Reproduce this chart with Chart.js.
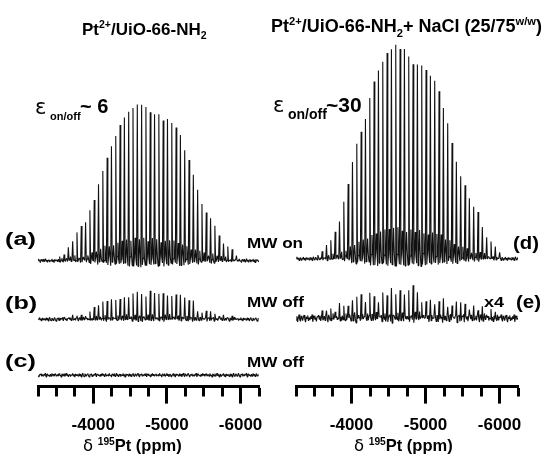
<!DOCTYPE html>
<html>
<head>
<meta charset="utf-8">
<script src="https://cdn.jsdelivr.net/npm/chart.js@4.4.0/dist/chart.umd.min.js"></script>
<style>
  body { margin: 0; background: #fff; }
  #wrap { position: relative; width: 542px; height: 454px; overflow: hidden; }
  canvas { position: absolute; top: 0; }
  .t { position: absolute; font-family: "Liberation Sans", Arial, sans-serif; font-weight: bold;
       line-height: 1; white-space: nowrap; color: #000; transform-origin: 0 0; }
  .t sup, .t sub { font-size: 0.62em; line-height: 0; }
  .g { font-family: "DejaVu Sans", sans-serif; font-weight: normal; }
</style>
</head>
<body>
<div id="wrap">
  <canvas id="left" width="271" height="454" style="left:0"></canvas>
  <canvas id="right" width="271" height="454" style="left:271px"></canvas>

  <div class="t" style="left:82px;top:20.5px;font-size:17px">Pt<sup>2+</sup>/UiO-66-NH<sub>2</sub></div>
  <div class="t" style="left:271px;top:16.5px;font-size:18px">Pt<sup>2+</sup>/UiO-66-NH<sub>2</sub>+ NaCl (25/75<sup>w/w</sup>)</div>

  <div class="t g" style="left:35px;top:97px;font-size:21px">ε</div>
  <div class="t" style="left:50px;top:111px;font-size:11px">on/off</div>
  <div class="t" style="left:80px;top:96px;font-size:20px">~ 6</div>

  <div class="t g" style="left:273px;top:95px;font-size:21px">ε</div>
  <div class="t" style="left:288px;top:107px;font-size:14px">on/off</div>
  <div class="t" style="left:326px;top:94px;font-size:21px">~30</div>

  <div class="t" style="left:5px;top:230px;font-size:18px;transform:scaleX(1.4)">(a)</div>
  <div class="t" style="left:247px;top:235px;font-size:15px;transform:scaleX(1.14)">MW on</div>
  <div class="t" style="left:513px;top:234px;font-size:18px;transform:scaleX(1.13)">(d)</div>

  <div class="t" style="left:5px;top:294px;font-size:18px;transform:scaleX(1.4)">(b)</div>
  <div class="t" style="left:247px;top:294px;font-size:15px;transform:scaleX(1.14)">MW off</div>
  <div class="t" style="left:484px;top:294px;font-size:15px;transform:scaleX(1.2)">x4</div>
  <div class="t" style="left:516px;top:293px;font-size:18px;transform:scaleX(1.14)">(e)</div>

  <div class="t" style="left:5px;top:352px;font-size:18px;transform:scaleX(1.4)">(c)</div>
  <div class="t" style="left:247px;top:354px;font-size:15px;transform:scaleX(1.14)">MW off</div>

  <div class="t" style="left:83px;top:437px;font-size:16.5px"><span class="g">δ</span> <sup>195</sup>Pt (ppm)</div>
  <div class="t" style="left:354px;top:437px;font-size:16.5px"><span class="g">δ</span> <sup>195</sup>Pt (ppm)</div>
</div>

<script>
// spikelet grid (ppm) shared by all spectra
var SPIKE_START = -3545;
var SPIKE_STEP = 58.5;
var AXIS_MIN = -6250, AXIS_MAX = -3250, TICK_STEP = 250;

// spikelet intensities, a.u. ((d) max = 100)
var specA = [1.4, 2.3, 7.2, 9.5, 12.7, 15.5, 18.5, 23.6, 29.1, 35.7, 42.7, 48.4, 53.7, 59.2,
  63.8, 67.5, 70.0, 71.4, 73.2, 72.8, 71.4, 70.6, 69.8, 68.2, 66.3, 65.9, 65.4, 63.5, 58.8,
  51.8, 46.6, 40.8, 33.0, 26.8, 22.9, 19.4, 15.8, 12.7, 8.5, 6.1, 4.6, 2.8];
var specB = [0.5, 0.7, 0.9, 1.4, 1.9, 1.4, 2.3, 2.8, 5.4, 7.4, 8.2, 8.2, 8.9, 9.4, 9.7, 10.5,
  11.3, 12.1, 12.4, 11.6, 11.3, 12.5, 12.1, 11.3, 11.3, 11.9, 11.6, 12.1, 11.3, 10.5, 8.9, 8.2,
  4.2, 3.8, 4.2, 3.5, 2.3, 1.9, 1.4, 0.9, 0.9, 0.7];
var specC = [];
var specD = [1.4, 2.8, 5.5, 9.4, 13.3, 18.0, 26.6, 35.5, 45.4, 53.5, 60.2, 66.5, 75.9, 83.2,
  88.3, 93.2, 96.2, 98.8, 100, 99.5, 97.9, 94.8, 92.3, 91.3, 90.6, 88.4, 86.4, 84.0, 78.9, 71.8,
  63.8, 54.0, 45.4, 39.4, 33.7, 28.2, 23.8, 21.1, 15.6, 10.7, 8.6, 5.5, 3.3];
var specE = [0.47, 0.59, 1.02, 0.82, 1.17, 1.41, 1.29, 1.88, 2.08, 2.35, 2.58, 2.08, 3.13, 2.66,
  2.35, 3.05, 2.46, 3.44, 3.13, 2.85, 2.66, 2.97, 3.44, 3.44, 2.19, 2.27, 2.08, 1.80, 1.96, 2.08,
  1.56, 1.88, 2.08, 1.80, 1.56, 1.29, 1.17, 1.06, 1.09, 0.82, 0.70, 0.59, 0.47];
var E_GAIN = 4;

// baseline noise, hand-typed
var NOISE = [0.3, -0.5, 0.8, -0.2, 0.1, -0.9, 0.6, 0.2, -0.4, 0.7, -0.6, 0.0, 0.9, -0.3, 0.4, -0.8,
  0.2, 0.5, -0.7, 0.1, -0.1, 0.8, -0.5, 0.3, -0.9, 0.6, -0.2, 0.4, 0.0, -0.6, 0.7, -0.4, 0.5, -0.8,
  0.2, 0.9, -0.3, -0.7, 0.6, 0.1, -0.5, 0.3, 0.8, -0.2, -0.9, 0.4, 0.0, 0.7, -0.6, 0.2, -0.4, 0.5,
  -0.1, 0.9, -0.8, 0.3, 0.6, -0.3, 0.1, -0.7, 0.4, -0.5, 0.8, -0.2, 0.5, -0.6, 0.2, 0.7, -0.4, -0.1];

var Y_MAX = 182;

// each spikelet period: top, dip, shoulder, sideband, shoulder, dip
function buildTrace(heights, offset, noiseAmp, gain, shift) {
  var pts = [], SUB = 6;
  for (var j = -32; j <= 290; j++) {
    var i = Math.floor(j / SUB), s = j - i * SUB;
    var ppm = SPIKE_START - SPIKE_STEP * (i + s / SUB);
    if (ppm < AXIS_MIN || ppm > AXIS_MAX) continue;
    var h0 = heights[i] || 0, h1 = heights[i + 1] || 0, m = (h0 + h1) / 2;
    var v;
    if (s === 0) v = h0;
    else if (s === 1) v = -0.03 * h0;
    else if (s === 5) v = -0.03 * h1;
    else if (s === 3) v = 0.14 * m;
    else v = 0.02 * m;
    v += NOISE[(j + 32 + shift) % NOISE.length] * noiseAmp;
    pts.push({ x: ppm, y: offset + v * gain });
  }
  return pts;
}

function ds(data) {
  return { data: data, borderColor: '#111', borderWidth: 1.1, pointRadius: 0, tension: 0,
           borderJoinStyle: 'bevel', fill: false };
}

function makePanel(id, traces, padLeft, padRight) {
  new Chart(document.getElementById(id), {
    type: 'line',
    data: { datasets: traces.map(ds) },
    options: {
      responsive: false,
      animation: false,
      events: [],
      layout: { padding: { left: padLeft, right: padRight, top: 0, bottom: 6 } },
      plugins: { legend: { display: false }, tooltip: { enabled: false } },
      scales: {
        x: {
          type: 'linear', min: AXIS_MIN, max: AXIS_MAX, reverse: true,
          border: { display: true, color: '#000', width: 3 },
          grid: {
            drawOnChartArea: false, drawTicks: true, tickLength: 17, tickWidth: 3, tickColor: '#000',
            tickBorderDash: function(c) { return c.tick && c.tick.value % 1000 === 0 ? [] : [8.5, 100]; }
          },
          ticks: {
            stepSize: TICK_STEP, autoSkip: false, maxRotation: 0, padding: 12, color: '#000',
            font: { family: 'Liberation Sans', size: 17, weight: 'bold' },
            callback: function(v) { return v % 1000 === 0 ? String(v) : ''; }
          }
        },
        y: { display: false, min: 0, max: Y_MAX }
      }
    }
  });
}

makePanel('left', [
  buildTrace(specA, 59.3, 1.0, 1, 0),
  buildTrace(specB, 31.7, 1.0, 1, 17),
  buildTrace(specC, 5.4, 1.0, 1, 41)
], 38, 12);

makePanel('right', [
  buildTrace(specD, 60.2, 1.0, 1, 9),
  buildTrace(specE, 32.1, 0.5, E_GAIN, 29)
], 25, 24);
</script>
</body>
</html>
